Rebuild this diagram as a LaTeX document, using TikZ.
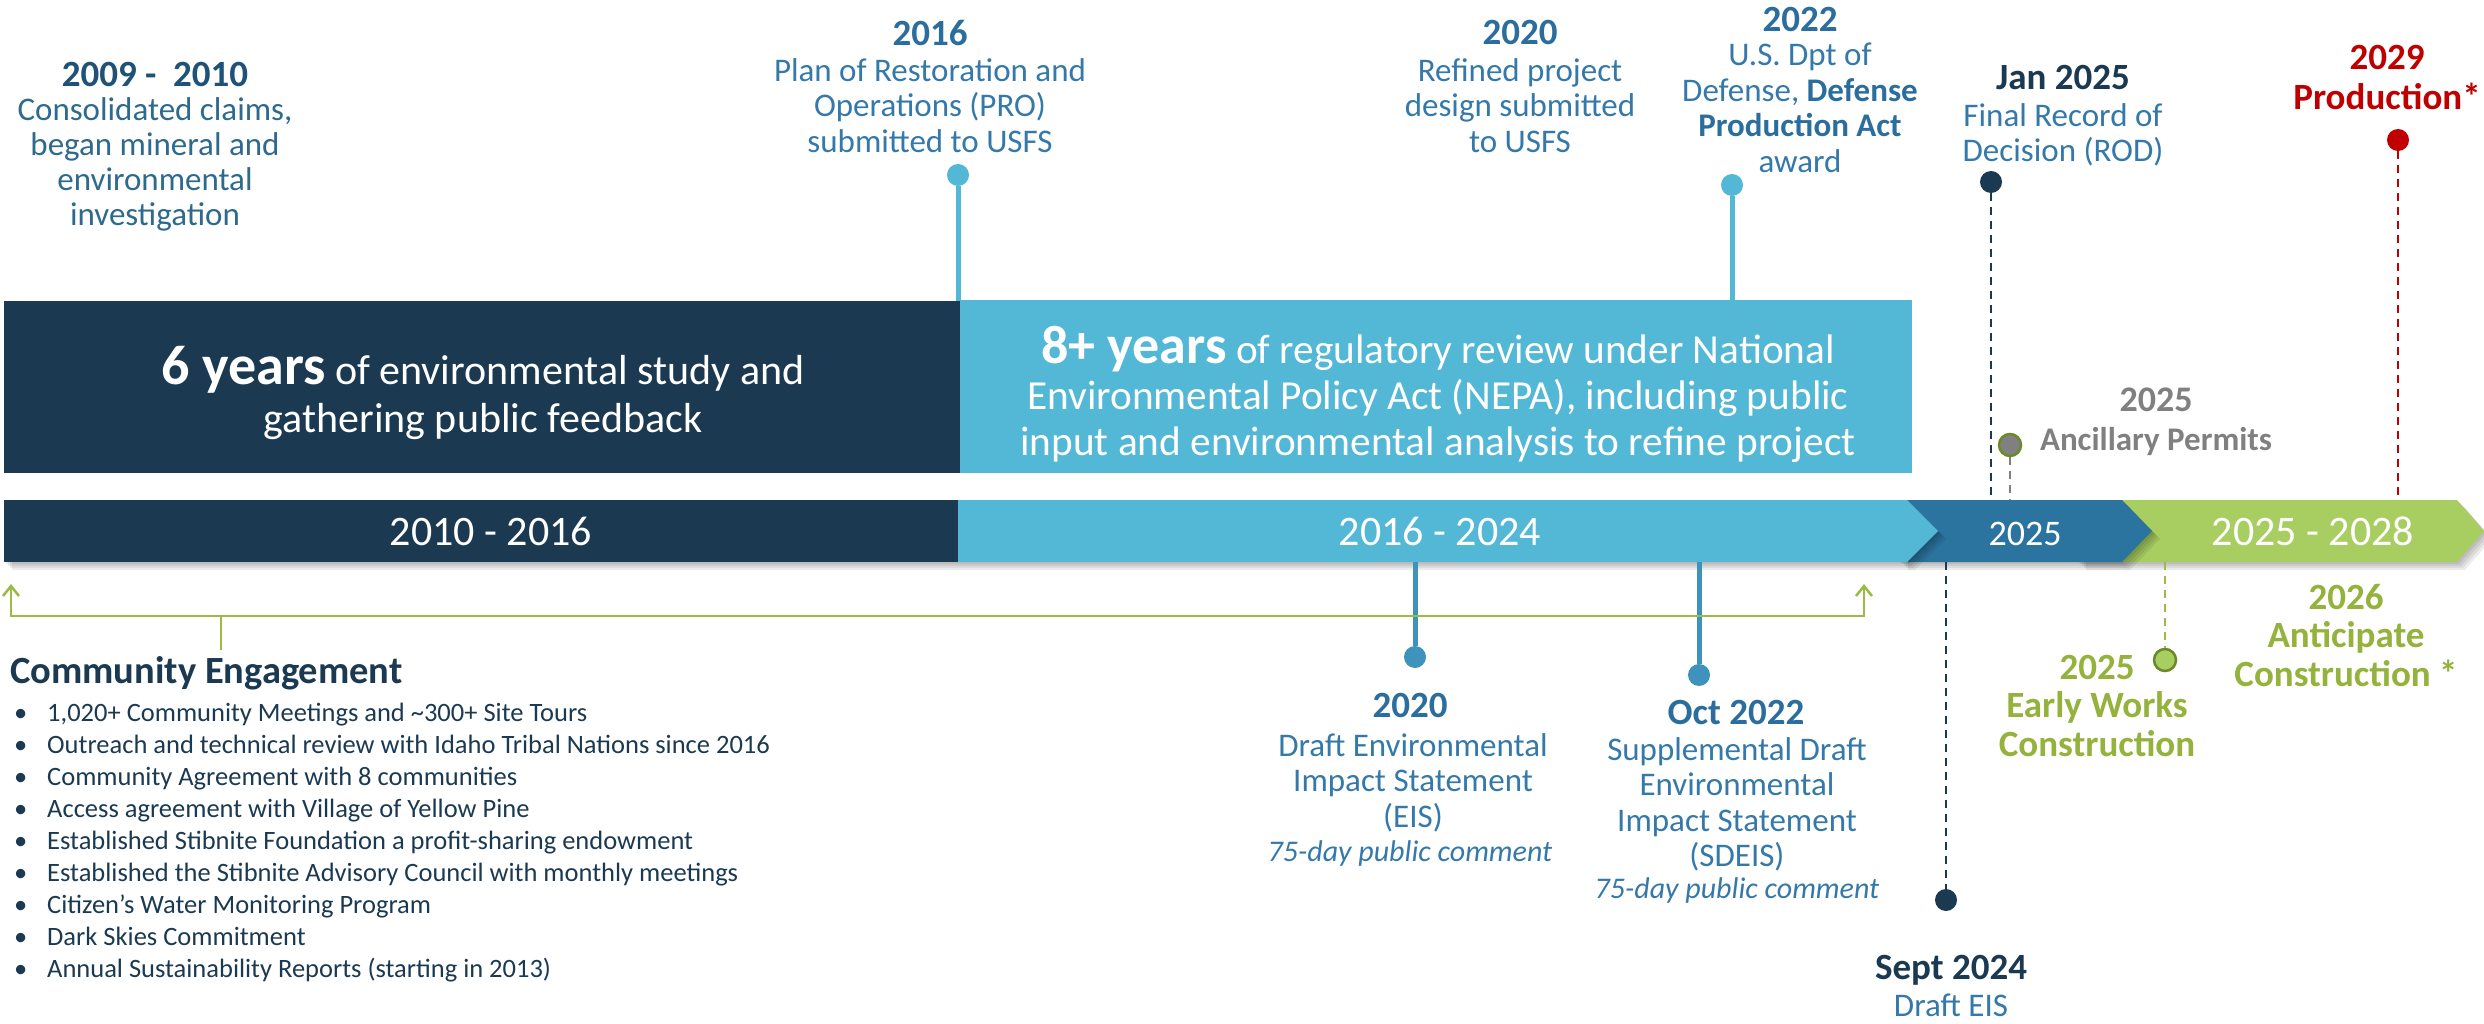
\documentclass[tikz,border=0pt]{standalone}
\usepackage{fontspec}
\setmainfont{Carlito}
\usetikzlibrary{arrows.meta}
\definecolor{navy}{HTML}{1B3A52}
\definecolor{lblue}{HTML}{53B7D6}
\definecolor{mblue}{HTML}{2C74A0}
\definecolor{sblue}{HTML}{3E93BC}
\definecolor{tblue}{HTML}{2B6E9D}
\definecolor{bblue}{HTML}{3479AA}
\definecolor{tlnavy}{HTML}{1F5276}
\definecolor{tlbody}{HTML}{2E6A8E}
\definecolor{lgreen}{HTML}{A8CD60}
\definecolor{dgreen}{HTML}{6A8A2A}
\definecolor{tgreen}{HTML}{94B23C}
\definecolor{bgreen}{HTML}{9BBB45}
\definecolor{gtext}{HTML}{808080}
\definecolor{dred}{HTML}{C00000}
\newcommand\fsz[2]{\fontsize{#1}{#2}\selectfont}
\tikzset{
  ttl/.style={inner sep=0pt, anchor=north, align=center, font=\fsz{37}{38.5}\bfseries},
  bdy/.style={inner sep=0pt, anchor=north, align=center, font=\fsz{33}{35.5}, text=bblue},
  itl/.style={inner sep=0pt, anchor=north, align=center, font=\fsz{30}{34}\itshape, text=bblue},
  dot/.style={circle, inner sep=0pt, minimum size=22pt},
  stem/.style={line width=5pt},
  dashline/.style={line width=2.5pt, dash pattern=on 8pt off 6pt},
  bracket/.style={bgreen, line width=2.5pt},
  bartxt/.style={inner sep=0pt, anchor=base, text=white, font=\fsz{42}{46}},
  boxst/.style={inner sep=0pt, anchor=north west},
}
\begin{document}
\begin{tikzpicture}[x=1pt,y=-1pt]
\useasboundingbox (0,0) rectangle (2484,1024);
\fill[white] (0,0) rectangle (2484,1024);

% ---- upper boxes
\node[boxst, fill=navy, minimum width=956pt, minimum height=172pt] (box6) at (4,301) {};
\node[boxst, fill=lblue, minimum width=952pt, minimum height=173pt] (box8) at (960,300) {};
\node[inner sep=0pt, anchor=north, align=center, text=white, font=\fsz{42}{48}] (txt6) at (483,346)
  {{\fsz{56}{48}\bfseries 6 years} of environmental study and\\gathering public feedback};
\node[inner sep=0pt, anchor=north, align=center, text=white, font=\fsz{41.3}{46}] (txt8) at (1438,326)
  {{\fsz{54}{46}\bfseries 8+ years} of regulatory review under National\\Environmental Policy Act (NEPA), including public\\input and environmental analysis to refine project};

% ---- timeline bar with shadows
\foreach \o in {2,4,6,8}{
  \fill[black, opacity=0.07, shift={(\o,\o)}] (2078,500) -- (2457,500) -- (2484,531) -- (2457,562) -- (2078,562) -- cycle;}
\fill[lgreen] (2078,500) -- (2457,500) -- (2484,531) -- (2457,562) -- (2078,562) -- cycle;
\foreach \o in {2,4,6,8}{
  \fill[black, opacity=0.07, shift={(\o,\o)}] (1900,500) -- (2122,500) -- (2152,531) -- (2122,562) -- (1900,562) -- cycle;}
\fill[mblue] (1900,500) -- (2122,500) -- (2152,531) -- (2122,562) -- (1900,562) -- cycle;
\foreach \o in {2,4,6,8}{
  \fill[black, opacity=0.07, shift={(\o,\o)}] (4,500) -- (1907,500) -- (1938,531) -- (1907,562) -- (4,562) -- cycle;}
\fill[lblue] (958,500) -- (1907,500) -- (1938,531) -- (1907,562) -- (958,562) -- cycle;
\fill[navy] (4,500) rectangle (958,562);

\node[bartxt] (bar1) at (491,545) {2010 - 2016};
\node[bartxt] (bar2) at (1440,545) {2016 - 2024};
\node[bartxt, font=\fsz{36}{40}] (bar3) at (2025,545) {2025};
\node[bartxt] (bar4) at (2313,545) {2025 - 2028};

% ---- top-left
\node[ttl, text=tlnavy] (t0910) at (155,62) {2009 -\ \ 2010};
\node[bdy, text=tlbody, font=\fsz{33}{35}] (b0910) at (155,97) {Consolidated claims,\\began mineral and\\environmental\\investigation};

% ---- 2016
\node[ttl, text=tblue] (t2016) at (930,20) {2016};
\node[bdy] (b2016) at (930,58) {Plan of Restoration and\\Operations (PRO)\\submitted to USFS};
\node[dot, fill=lblue] (d2016) at (958,175) {};
\coordinate (s2016) at (958,301);
\draw[stem, lblue] (d2016) -- (s2016);

% ---- 2020 top
\node[ttl, text=tblue] (t2020a) at (1520,20) {2020};
\node[bdy] (b2020a) at (1520,58) {Refined project\\design submitted\\to USFS};

% ---- 2022
\node[ttl, text=tblue] (t2022) at (1800,7) {2022};
\node[bdy] (b2022) at (1800,43) {U.S. Dpt of\\Defense, {\bfseries\color{tblue}Defense}\\{\bfseries\color{tblue}Production Act}\\award};
\node[dot, fill=lblue] (d2022) at (1732,185) {};
\coordinate (s2022) at (1732,300);
\draw[stem, lblue] (d2022) -- (s2022);

% ---- Jan 2025
\node[ttl, text=navy] (tjan) at (2063,65) {Jan 2025};
\node[bdy] (bjan) at (2063,103) {Final Record of\\Decision (ROD)};
\node[dot, fill=navy] (djan) at (1991,182) {};
\coordinate (sjan) at (1991,500);
\draw[dashline, navy] (djan) -- (sjan);

% ---- 2029
\node[ttl, text=dred] (t2029) at (2387,45) {2029};
\node[ttl, text=dred] (bprod) at (2387,83) {Production*};
\node[dot, fill=dred] (d2029) at (2398,140) {};
\coordinate (s2029) at (2398,500);
\draw[dashline, dred] (d2029) -- (s2029);

% ---- Ancillary permits
\node[ttl, text=gtext, font=\fsz{36}{40}\bfseries] (tanc) at (2156,388) {2025};
\node[ttl, text=gtext, font=\fsz{33}{36}\bfseries] (banc) at (2156,427) {Ancillary Permits};
\coordinate (sanc) at (2010,500);
\node[dot, fill=gtext, draw=dgreen, line width=2.5pt] (danc) at (2010,445) {};
\draw[dashline, gtext] (danc) -- (sanc);

% ---- 2020 lower
\coordinate (s2020b) at (1415,562);
\node[dot, fill=sblue] (d2020b) at (1415,657) {};
\draw[stem, sblue] (s2020b) -- (d2020b);
\node[ttl, text=tblue] (t2020b) at (1410,693) {2020};
\node[bdy] (b2020b) at (1413,733) {Draft Environmental\\Impact Statement\\(EIS)};
\node[itl] (i2020b) at (1410,840) {75-day public comment};

% ---- Oct 2022
\coordinate (soct) at (1699,562);
\node[dot, fill=sblue] (doct) at (1699,675) {};
\draw[stem, sblue] (soct) -- (doct);
\node[ttl, text=tblue] (toct) at (1736,700) {Oct 2022};
\node[bdy] (boct) at (1737,737) {Supplemental Draft\\Environmental\\Impact Statement\\(SDEIS)};
\node[itl] (ioct) at (1737,877) {75-day public comment};

% ---- Sept 2024
\coordinate (ssep) at (1946,562);
\node[dot, fill=navy] (dsep) at (1946,900) {};
\draw[dashline, navy] (ssep) -- (dsep);
\node[ttl, text=navy] (tsep) at (1951,955) {Sept 2024};
\node[bdy] (bsep) at (1951,994) {Draft EIS};

% ---- Early works
\coordinate (sew) at (2165,562);
\node[dot, fill=lgreen, draw=dgreen, line width=2.5pt] (dew) at (2165,660) {};
\draw[dashline, bgreen] (sew) -- (dew);
\node[ttl, text=tgreen] (tew) at (2097,655) {2025\\Early Works\\Construction};

% ---- 2026
\node[ttl, text=tgreen] (t2026) at (2346,584) {2026\\Anticipate\\Construction *};

% ---- Community engagement
\coordinate (brLt) at (11,584);
\coordinate (brL) at (11,616);
\coordinate (brR) at (1864,616);
\coordinate (brRt) at (1864,584);
\coordinate (brS) at (221,616);
\coordinate (brSb) at (221,650);
\draw[bracket, {Straight Barb[length=10pt,width=16pt]}-{Straight Barb[length=10pt,width=16pt]}] (brLt) -- (brL) -- (brR) -- (brRt);
\draw[bracket] (brS) -- (brSb);
\node[inner sep=0pt, anchor=north west, font=\fsz{38.5}{40}\bfseries, text=navy] (ce) at (10,656) {Community Engagement};
\node[inner sep=0pt, anchor=north west, align=left, font=\fsz{26.5}{32}, text=navy] (cebul) at (14,701)
  {\rule{0pt}{20pt}\textbullet\\\textbullet\\\textbullet\\\textbullet\\\textbullet\\\textbullet\\\textbullet\\\textbullet\\\textbullet};
\node[inner sep=0pt, anchor=north west, align=left, font=\fsz{26.5}{32}, text=navy] (celist) at (47,701)
  {\rule{0pt}{20pt}1,020+ Community Meetings and \textasciitilde300+ Site Tours\\
   Outreach and technical review with Idaho Tribal Nations since 2016\\
   Community Agreement with 8 communities\\
   Access agreement with Village of Yellow Pine\\
   Established Stibnite Foundation a profit-sharing endowment\\
   Established the Stibnite Advisory Council with monthly meetings\\
   Citizen’s Water Monitoring Program\\
   Dark Skies Commitment\\
   Annual Sustainability Reports (starting in 2013)};
\end{tikzpicture}
\end{document}
